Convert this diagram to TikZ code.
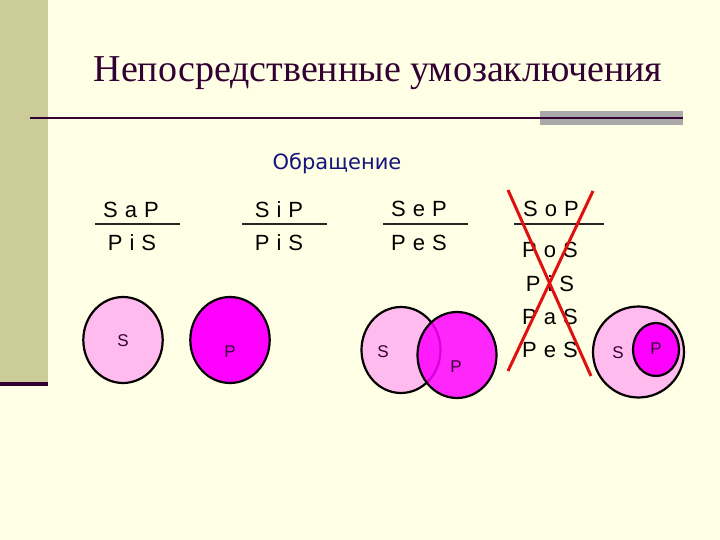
\documentclass[tikz,border=0pt]{standalone}
\usepackage{fontspec}
\setmainfont{Liberation Serif}
\setsansfont{Liberation Sans}
\newfontfamily\obrfont{DejaVu Sans}
\definecolor{bgc}{HTML}{FFFFE5}
\definecolor{barc}{HTML}{CCCC99}
\definecolor{darkp}{HTML}{330033}
\definecolor{grayb}{HTML}{A9A9A9}
\definecolor{navy}{HTML}{14147A}
\definecolor{lpink}{HTML}{FFBBEE}
\definecolor{mag}{HTML}{FF00FF}
\definecolor{xred}{HTML}{E01010}
\newcommand{\lsp}{\hspace{0.32em}}
\begin{document}
\begin{tikzpicture}[x=1pt,y=-1pt,
  frm/.style={font=\sffamily\fontsize{22}{22}\selectfont, inner sep=0pt, anchor=base},
  bar/.style={line width=2.5pt, black!85},
  circS/.style={draw=black, line width=2.2pt, fill=lpink},
  circP/.style={draw=black, line width=2.2pt, fill=mag},
  lbl/.style={font=\sffamily\fontsize{17}{17}\selectfont, text=darkp, inner sep=0pt},
  xline/.style={draw=xred, line width=3pt}]
\useasboundingbox (0,0) rectangle (720,540);
\fill[bgc] (0,0) rectangle (720,540);
\fill[barc] (0,0) rectangle (48,382);
\fill[darkp] (0,382) rectangle (48,386);
% title
\node[font=\fontsize{38}{38}\selectfont, text=darkp, inner sep=0pt, anchor=base] (title) at (378,82) {Непосредственные умозаключения};
\fill[grayb] (540,111) rectangle (683,125);
\draw[darkp, line width=2pt] (30,118) -- (683,118);
% subtitle
\node[font=\obrfont\fontsize{21}{21}\selectfont, text=navy, inner sep=0pt, anchor=base] (obr) at (337,170) {Обращение};
% formulas
\node[frm] (f1a) at (131,218) {S\lsp a\lsp P};
\node[frm] (f1b) at (132,251) {P\lsp i\lsp S};
\draw[bar] (95,224) -- (180,224);
\node[frm] (f2a) at (279,218) {S\lsp i\lsp P};
\node[frm] (f2b) at (279,251) {P\lsp i\lsp S};
\draw[bar] (242,224) -- (327,224);
\node[frm] (f3a) at (419,216) {S\lsp e\lsp P};
\node[frm] (f3b) at (419,251) {P\lsp e\lsp S};
\draw[bar] (383,224) -- (468,224);
\node[frm] (f4a) at (551,216) {S\lsp o\lsp P};
\draw[bar] (514,224) -- (604,224);
\node[frm] (f4b) at (550,257) {P\lsp o\lsp S};
\node[frm] (f4c) at (550,291) {P\lsp i\lsp S};
\node[frm] (f4d) at (550,324) {P\lsp a\lsp S};
\node[frm] (f4e) at (550,357) {P\lsp e\lsp S};
\draw[xline] (508,190) -- (591,376);
\draw[xline] (593,191) -- (508,371);
% circles 1
\draw[circS] (123,340) ellipse [x radius=39.7, y radius=43];
\node[lbl] (s1) at (123,341) {S};
\draw[circP] (230,340) ellipse [x radius=39.7, y radius=43];
\node[lbl] (p2) at (230,352) {P};
% circles 3
\draw[circS] (401,350) ellipse [x radius=39.5, y radius=43];
\draw[circP, fill opacity=0.85] (457,355) ellipse [x radius=39.5, y radius=43];
\node[lbl] (s3) at (383,352) {S};
\node[lbl] (p3) at (456,367) {P};
% circles 4
\draw[circS] (638.5,352) ellipse [x radius=45.5, y radius=45.5];
\draw[circP] (656,349.5) ellipse [x radius=23, y radius=26.5];
\node[lbl] (s4) at (618,353) {S};
\node[lbl] (p4) at (656,349) {P};
\end{tikzpicture}
\end{document}
